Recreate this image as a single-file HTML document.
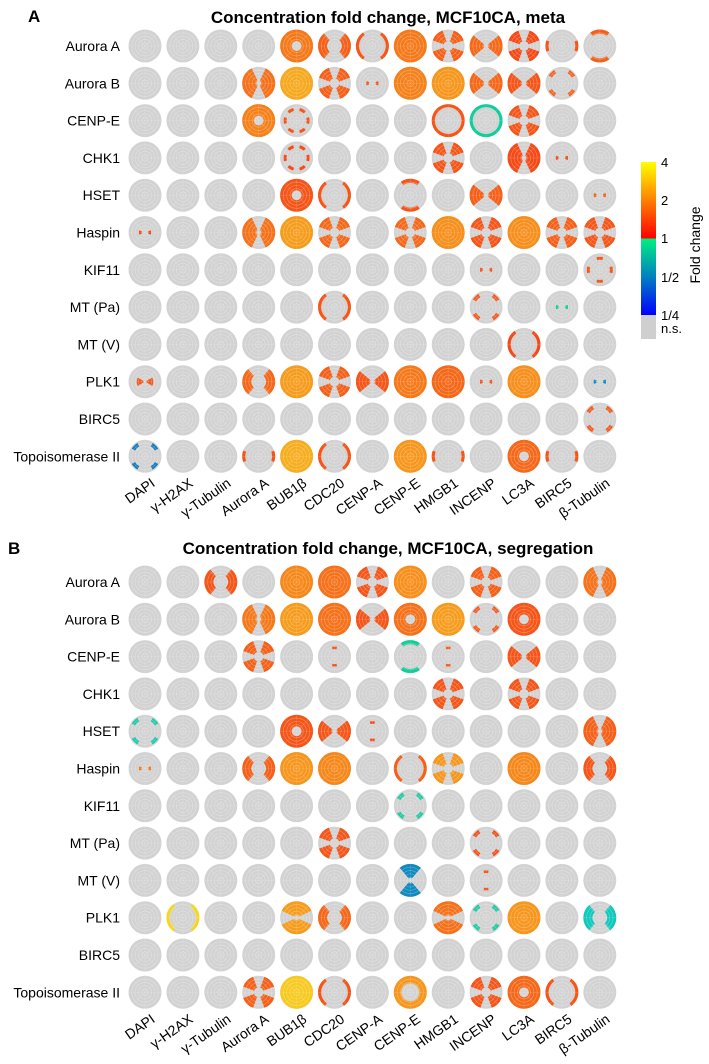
<!DOCTYPE html>
<html><head><meta charset="utf-8"><style>
html,body{margin:0;padding:0;background:#fff;}
svg{display:block;font-family:"Liberation Sans",Arial,sans-serif;}
</style></head><body>
<svg id="chart" width="709" height="1064" viewBox="0 0 709 1064">
<text x="28" y="22" font-size="17" font-weight="bold">A</text>
<text x="388" y="23" font-size="17" font-weight="bold" text-anchor="middle">Concentration fold change, MCF10CA, meta</text>
<text x="8" y="554" font-size="17" font-weight="bold">B</text>
<text x="388" y="554" font-size="17" font-weight="bold" text-anchor="middle">Concentration fold change, MCF10CA, segregation</text>
<g id="gA"></g>
<g id="gB"></g>
<defs><linearGradient id="cbg" x1="0" y1="0" x2="0" y2="1">
<stop offset="0" stop-color="#ffff00"/><stop offset="0.25" stop-color="#ff8000"/><stop offset="0.5" stop-color="#ff0000"/>
<stop offset="0.5" stop-color="#00f080"/><stop offset="0.75" stop-color="#0080c0"/><stop offset="1" stop-color="#0000ff"/></linearGradient></defs>
<g>
<rect x="641" y="162" width="15" height="153" fill="url(#cbg)"/>
<rect x="641" y="315" width="15" height="24" fill="#cfcfcf"/>
<text x="661" y="167" font-size="13">4</text>
<text x="661" y="205" font-size="13">2</text>
<text x="661" y="243" font-size="13">1</text>
<text x="661" y="282" font-size="13">1/2</text>
<text x="661" y="320" font-size="13">1/4</text>
<text x="661" y="333" font-size="13">n.s.</text>
<text transform="translate(700,245) rotate(-90)" font-size="14" text-anchor="middle">Fold change</text>
</g>
</svg>
<script>
const rowNames = ["Aurora A","Aurora B","CENP-E","CHK1","HSET","Haspin","KIF11","MT (Pa)","MT (V)","PLK1","BIRC5","Topoisomerase II"];
const colNames = ["DAPI","γ-H2AX","γ-Tubulin","Aurora A","BUB1β","CDC20","CENP-A","CENP-E","HMGB1","INCENP","LC3A","BIRC5","β-Tubulin"];
const patternsA = ["....HACFXBXcT","...NFXPFFBBD.","...HS...RRX..","....S...X.NP.","....HC.T.B..P","P..NFX.XFXFXX",".........P..K",".....C...D.P.","..........C..","b..AFXBFFPF.P","............D","D..cFC.Fc.Hc."];
const valuesA = [
[0,0,0,0,1.8,1.5,1.4,1.8,1.5,1.6,1.3,1.4,1.5],
[0,0,0,1.7,2.5,1.5,1.4,1.9,2.2,1.6,1.4,1.5,0],
[0,0,0,1.9,1.4,0,0,0,1.4,0.9,1.4,0,0],
[0,0,0,0,1.3,0,0,0,1.4,0,1.3,1.3,0],
[0,0,0,0,1.4,1.4,0,1.4,0,1.5,0,0,1.5],
[1.3,0,0,1.7,2.3,1.6,0,1.6,2.1,1.4,2.1,1.5,1.4],
[0,0,0,0,0,0,0,0,0,1.4,0,0,1.4],
[0,0,0,0,0,1.4,0,0,0,1.4,0,0.9,0],
[0,0,0,0,0,0,0,0,0,0,1.3,0,0],
[1.4,0,0,1.6,2.3,1.5,1.4,1.8,1.6,1.4,2.1,0,0.45],
[0,0,0,0,0,0,0,0,0,0,0,0,1.4],
[0.4,0,0,1.4,2.6,1.4,0,2.2,1.4,0,1.6,1.4,0]];
const patternsB = ["..A.FFXF.X..N","...NFFBHFDH..","...X.Q.TQ.B..","........X.X..","D...HBQ.....N","P..AFF.CX.F.A",".......D.....",".....X...D...",".......V.Q...",".C..WA..WDF.A",".............","...XFC.O.XHC."];
const valuesB = [
[0,0,1.4,0,2.0,1.7,1.4,2.1,0,1.5,0,0,1.7],
[0,0,0,1.8,2.3,1.7,1.4,1.7,2.3,1.4,1.4,0,0],
[0,0,0,1.5,0,1.4,0,0.9,1.5,0,1.4,0,0],
[0,0,0,0,0,0,0,0,1.4,0,1.4,0,0],
[0.8,0,0,0,1.4,1.4,1.3,0,0,0,0,0,1.5],
[1.8,0,0,1.5,2.2,2.0,0,1.5,2.2,0,2.0,0,1.4],
[0,0,0,0,0,0,0,0.85,0,0,0,0,0],
[0,0,0,0,0,1.4,0,0,0,1.3,0,0,0],
[0,0,0,0,0,0,0,0.45,0,1.4,0,0,0],
[0,3.5,0,0,2.3,1.6,0,0,1.7,0.85,2.2,0,0.7],
[0,0,0,0,0,0,0,0,0,0,0,0,0],
[0,0,0,1.5,3.2,1.4,0,2.2,0,1.4,1.6,1.4,0]];

const SHAPES = {
 F:[[0,1,0,360]], H:[[0.3,1,0,360]], O:[[0.55,1,0,360]],
 A:[[0.45,1,-50,50],[0.45,1,130,230]],
 C:[[0.8,1,-55,55],[0.8,1,125,235]],
 c:[[0.8,1,-20,20],[0.8,1,160,200]],
 B:[[0.15,1,-40,40],[0.15,1,140,220]],
 b:[[0.1,0.5,-30,30],[0.1,0.5,150,210]],
 V:[[0.15,1,50,130],[0.15,1,230,310]],
 N:[[0.15,1,-65,65],[0.15,1,115,245]],
 W:[[0.15,1,25,155],[0.15,1,205,335]],
 X:[[0.3,1,20,70],[0.3,1,110,160],[0.3,1,200,250],[0.3,1,290,340]],
 R:[[0.8,1,0,360]],
 T:[[0.75,1,235,305],[0.75,1,55,125]],
 D:[[0.7,0.92,30,60],[0.7,0.92,120,150],[0.7,0.92,210,240],[0.7,0.92,300,330]],
 S:[[0.6,0.8,-15,15],[0.6,0.8,45,75],[0.6,0.8,105,135],[0.6,0.8,165,195],[0.6,0.8,225,255],[0.6,0.8,285,315]],
 P:[[0.2,0.38,-20,20],[0.2,0.38,160,200]],
 Q:[[0.45,0.62,75,105],[0.45,0.62,255,285]],
 K:[[0.6,0.8,-15,15],[0.6,0.8,75,105],[0.6,0.8,165,195],[0.6,0.8,255,285]]
};
const NS="http://www.w3.org/2000/svg";
const R=16.5, X0=145, DX=37.9, DY=37.3;
const xPos = c => X0 + c*DX;
function color(v){
  const l=Math.log2(v);
  if(l>=0){const t=Math.min(l/2,1);return `hsl(${4+t*52},92%,${52+t*3}%)`;}
  const t=Math.min(-l/2,1);return `hsl(${158+t*70},85%,${44-t*6}%)`;
}
function sector(cx,cy,r0,r1,a0,a1){
  if(a1-a0>=360){
    let d=`M${cx+r1},${cy}A${r1},${r1} 0 1 1 ${cx-r1},${cy}A${r1},${r1} 0 1 1 ${cx+r1},${cy}Z`;
    if(r0>0) d+=`M${cx+r0},${cy}A${r0},${r0} 0 1 0 ${cx-r0},${cy}A${r0},${r0} 0 1 0 ${cx+r0},${cy}Z`;
    return d;
  }
  const p=(r,a)=>[cx+r*Math.cos(a*Math.PI/180),cy+r*Math.sin(a*Math.PI/180)];
  const lg=(a1-a0)>180?1:0;
  const [x1,y1]=p(r1,a0),[x2,y2]=p(r1,a1),[x3,y3]=p(r0,a1),[x4,y4]=p(r0,a0);
  return `M${x1},${y1}A${r1},${r1} 0 ${lg} 1 ${x2},${y2}L${x3},${y3}A${r0},${r0} 0 ${lg} 0 ${x4},${y4}Z`;
}
function el(tag,attrs,parent){const e=document.createElementNS(NS,tag);for(const k in attrs)e.setAttribute(k,attrs[k]);parent.appendChild(e);return e;}
function drawPanel(gid,y0,pats,vals){
  const g=document.getElementById(gid);
  const yPos = r => y0 + r*DY;
  rowNames.forEach((name,r)=>{
    const t=el('text',{x:120,y:yPos(r)+5,'font-size':14,'text-anchor':'end'},g);
    
    
    t.textContent=name;
    colNames.forEach((cn,c)=>{
      const cx=xPos(c), cy=yPos(r);
      const cell=el('g',{},g);
      
      
      el('circle',{cx:cx,cy:cy,r:R,fill:'#d2d2d2'},cell);
      const code=pats[r][c], v=vals[r][c];
      if(code!=='.' && v>0){
        const col=color(v);
        SHAPES[code].forEach(s=>{
          const p=el('path',{d:sector(cx,cy,s[0]*R,s[1]*R,s[2],s[3]),fill:col},cell);
          
          
        });
      }
      [0.2,0.4,0.6,0.8].forEach(f=>el('circle',{cx:cx,cy:cy,r:f*R,fill:'none',stroke:'#fff','stroke-opacity':0.3,'stroke-width':0.7},cell));
      for(let a=0;a<360;a+=45){const rad=a*Math.PI/180;el('line',{x1:cx,y1:cy,x2:cx+R*Math.cos(rad),y2:cy+R*Math.sin(rad),stroke:'#fff','stroke-opacity':0.18,'stroke-width':0.6},cell);}
    });
  });
  const ly=yPos(rowNames.length-1)+29;
  colNames.forEach((cn,c)=>{
    const t=el('text',{transform:`translate(${xPos(c)+11},${ly}) rotate(-35)`,'font-size':14,'text-anchor':'end'},g);
    
    
    t.textContent=cn;
  });
}
drawPanel('gA',46,patternsA,valuesA);
drawPanel('gB',582,patternsB,valuesB);
</script>
</body></html>
